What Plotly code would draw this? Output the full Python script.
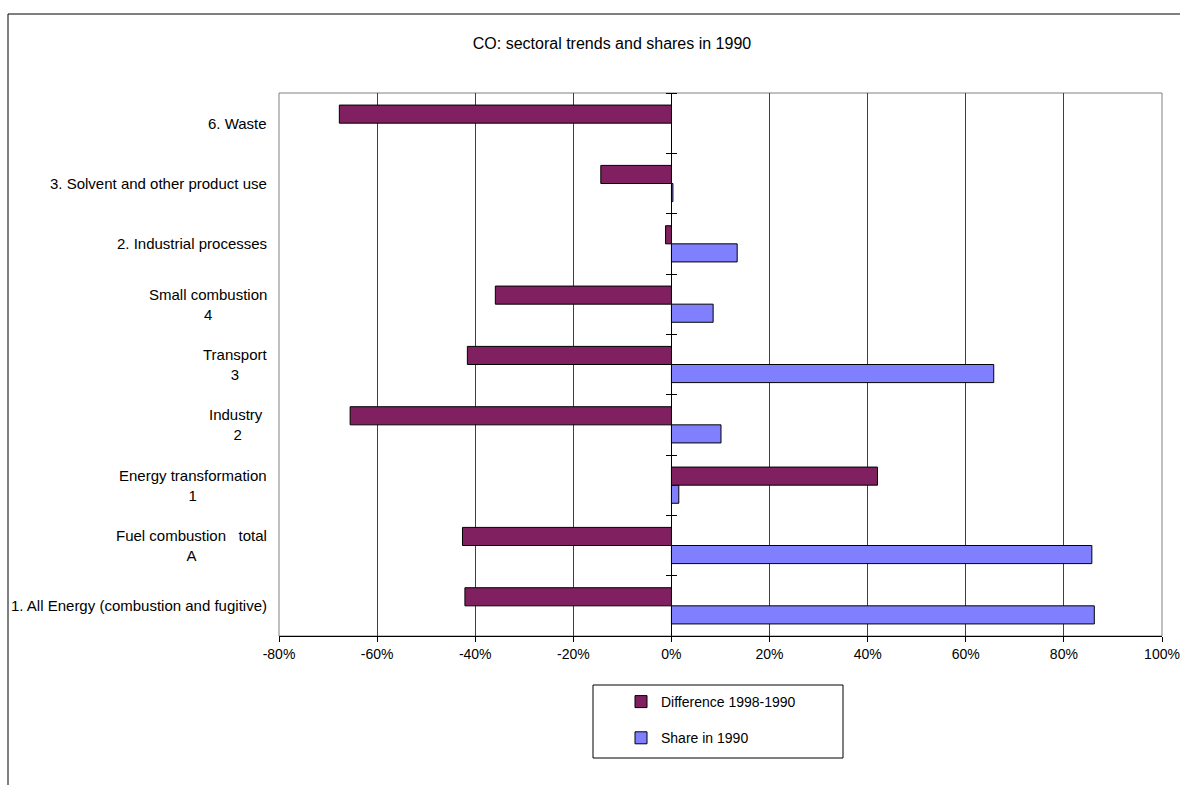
import plotly.graph_objects as go

categories = [
    "1. All Energy (combustion and fugitive)",
    "Fuel combustion\u00a0\u00a0\u00a0total<br>A",
    "Energy transformation<br>1",
    "Industry\u00a0<br>2",
    "Transport<br>3",
    "Small combustion<br>4",
    "2. Industrial processes",
    "3. Solvent and other product use",
    "6. Waste",
]
difference_1998_1990 = [-42.1, -42.6, 42.0, -65.5, -41.6, -35.9, -1.2, -14.4, -67.7]
share_1990 = [86.2, 85.7, 1.5, 10.1, 65.7, 8.5, 13.4, 0.3, None]
x_ticks = [-80, -60, -40, -20, 0, 20, 40, 60, 80, 100]
x_tick_labels = [f"{v}%" for v in x_ticks]

FONT = "Liberation Sans, Arial, sans-serif"
pos = list(range(len(categories)))
boundaries = [p - 0.5 for p in pos] + [pos[-1] + 0.5]
zero_frac = (0 - x_ticks[0]) / (x_ticks[-1] - x_ticks[0])

fig = go.Figure()
fig.add_trace(go.Bar(
    name="Share in 1990", y=pos, x=share_1990, orientation="h",
    marker=dict(color="#8080FF", line=dict(color="black", width=1)),
    legendrank=2, legendgroup="b",
))
fig.add_trace(go.Bar(
    name="Difference 1998-1990", y=pos, x=difference_1998_1990, orientation="h",
    marker=dict(color="#802060", line=dict(color="black", width=1)),
    legendrank=1, legendgroup="a",
))
# helper empty traces so that overlay axes (zero axis with cross ticks) are drawn
fig.add_trace(go.Scatter(x=[], y=[], yaxis="y2", showlegend=False, hoverinfo="skip"))
fig.add_trace(go.Scatter(x=[], y=[], yaxis="y3", showlegend=False, hoverinfo="skip"))

yrange = [-0.5, len(categories) - 0.5]

for p, lab in zip(pos, categories):
    fig.add_annotation(
        x=0, xref="paper", y=p, yref="y", text=lab, showarrow=False,
        xanchor="right", yanchor="middle", align="center", xshift=-10,
        font=dict(family=FONT, size=15, color="black"),
    )

fig.update_layout(
    width=1180, height=785,
    margin=dict(l=279, r=18, t=93, b=149, autoexpand=False),
    paper_bgcolor="white", plot_bgcolor="white",
    barmode="group", bargap=0.4, bargroupgap=0,
    font=dict(family=FONT, size=14, color="black"),
    title=dict(text="CO: sectoral trends and shares in 1990",
               x=612 / 1180, xref="container", xanchor="center",
               y=1 - 43 / 785, yref="container", yanchor="middle",
               font=dict(family=FONT, size=16, color="black")),
    xaxis=dict(range=[x_ticks[0], x_ticks[-1]], tickvals=x_ticks, ticktext=x_tick_labels,
               showgrid=True, gridcolor="#404040", gridwidth=1, zeroline=False,
               showline=True, linecolor="black", linewidth=1, automargin=False,
               ticks="outside", ticklen=5, tickcolor="black",
               tickfont=dict(size=14)),
    yaxis=dict(range=yrange, showticklabels=False, showgrid=False, zeroline=False,
               showline=False, ticks="", automargin=False),
    yaxis2=dict(range=yrange, overlaying="y", anchor="free", position=zero_frac, side="left",
                tickvals=boundaries, ticks="outside", ticklen=5, tickcolor="black",
                showticklabels=False, showgrid=False, zeroline=False, automargin=False,
                showline=True, linecolor="black", linewidth=1),
    yaxis3=dict(range=yrange, overlaying="y", anchor="free", position=zero_frac, side="right",
                tickvals=boundaries, ticks="outside", ticklen=5, tickcolor="black",
                showticklabels=False, showgrid=False, zeroline=False, showline=False,
                automargin=False),
    showlegend=True,
    legend=dict(x=(621 - 279) / 883, xanchor="left", y=(636 - 686) / 543, yanchor="top",
                bgcolor="rgba(0,0,0,0)", borderwidth=0, tracegroupgap=15,
                font=dict(family=FONT, size=14, color="black")),
    shapes=[
        dict(type="rect", xref="x domain", yref="y domain", x0=0, x1=1, y0=0, y1=1,
             line=dict(color="#808080", width=1), layer="below"),
        dict(type="rect", xref="paper", yref="paper",
             x0=(8 - 279) / 883, x1=1.2, y0=(636 - 14) / 543, y1=-0.5,
             line=dict(color="black", width=1), layer="below"),
        dict(type="rect", xref="paper", yref="paper",
             x0=(593 - 279) / 883, x1=(843 - 279) / 883,
             y0=(636 - 685) / 543, y1=(636 - 758) / 543,
             line=dict(color="black", width=1), layer="below"),
    ],
)

fig.write_html("out.html")
